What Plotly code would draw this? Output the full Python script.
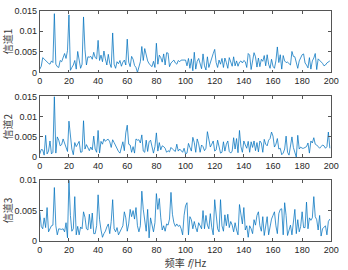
import plotly.graph_objects as go

freq = list(range(200))

ch1 = [0.8,1.5,3.6,3.2,2.8,2.6,2.2,2.0,2.8,2.4,14.3,2.0,1.4,1.2,2.9,2.6,3.5,4.6,3.4,5.3,
       14.0,0.5,1.2,1.8,2.9,0.8,5.1,3.2,1.0,2.0,13.5,5.5,1.8,3.8,3.7,3.9,3.2,4.9,3.6,3.3,
       7.8,2.9,4.2,2.6,5.2,3.3,1.8,4.4,2.2,1.2,9.6,2.0,1.0,2.6,2.1,2.9,1.5,2.5,3.0,1.8,
       8.1,2.5,1.4,3.9,3.2,1.7,1.2,0.0,1.5,2.6,6.3,2.9,5.8,4.0,2.8,2.1,1.8,1.4,2.7,1.2,
       7.1,2.0,4.2,3.6,2.5,4.5,1.8,4.8,4.7,1.4,2.3,2.6,3.0,2.3,2.0,2.9,2.6,3.0,3.0,3.1,
       3.0,1.6,3.4,1.0,3.3,0.4,4.9,0.8,2.7,3.4,1.9,0.9,4.5,1.6,0.6,3.8,1.2,2.5,3.3,4.6,
       5.6,2.4,1.2,3.0,2.0,3.4,1.2,3.5,2.4,1.0,3.6,2.4,1.5,3.8,1.6,2.8,1.5,2.5,2.8,2.3,
       2.9,2.6,1.2,4.6,4.2,0.7,2.6,4.8,3.8,1.3,3.5,1.4,3.2,2.7,4.1,1.6,4.3,2.0,1.0,3.2,
       1.5,1.0,2.8,6.2,2.4,4.3,0.8,4.1,2.8,2.4,2.5,2.2,1.8,5.1,3.9,3.8,2.0,1.0,2.8,3.6,
       4.3,4.5,2.3,1.8,1.1,3.6,0.8,2.8,3.5,4.6,0.7,3.3,3.0,2.7,2.2,1.6,1.8,2.3,2.5,2.8]

ch2 = [0.8,1.9,1.8,0.5,5.4,0.8,1.5,4.0,0.8,1.2,15.0,1.0,5.0,4.2,2.8,3.1,4.5,3.5,2.0,1.4,
       8.9,5.5,2.0,0.6,3.6,2.6,3.2,3.9,1.2,1.3,9.0,2.0,3.1,2.5,1.6,2.5,1.8,5.2,2.0,1.2,
       6.6,1.0,3.9,3.2,4.5,3.9,4.3,4.4,3.8,2.4,4.3,3.6,2.8,2.2,1.4,1.0,2.4,3.8,1.6,6.0,
       7.9,3.2,3.0,1.2,2.6,1.0,4.5,4.2,4.3,3.5,5.5,1.5,1.2,4.2,1.4,3.8,4.2,2.4,1.0,2.6,
       6.0,1.5,3.6,1.8,2.8,2.6,2.2,1.2,1.6,1.3,2.4,2.0,1.6,1.4,3.2,1.5,2.0,1.6,1.2,2.2,
       0.8,1.0,3.4,2.4,1.5,4.9,3.6,1.2,4.5,3.3,1.2,3.0,2.6,1.6,2.2,6.3,3.8,2.5,3.2,4.0,
       1.5,1.8,4.2,2.8,1.0,1.2,3.8,1.5,3.2,4.0,1.4,1.0,1.5,4.8,2.0,4.6,1.1,6.6,2.6,1.2,
       4.0,3.0,2.2,3.9,1.2,3.8,2.4,4.0,1.6,3.6,1.3,4.0,3.5,1.2,4.4,3.2,2.8,4.2,4.6,6.2,
       5.2,2.5,3.2,4.6,2.0,2.2,0.6,1.0,2.0,5.2,1.2,0.5,2.8,5.0,2.4,1.4,0.0,5.4,2.0,2.5,
       2.2,2.2,2.4,2.6,3.5,1.0,4.0,3.5,4.8,3.2,3.0,2.6,2.2,2.6,3.0,2.8,2.2,2.6,6.2,2.2]

ch3 = [4.8,2.4,2.0,3.8,2.2,5.5,1.5,2.0,2.5,2.6,8.8,2.5,1.0,2.0,1.9,1.9,2.0,1.5,3.0,0.5,
       10.0,4.2,1.6,2.0,7.3,1.0,2.4,1.0,2.3,2.0,4.8,3.9,2.0,1.8,4.4,2.0,4.6,1.2,1.2,2.5,
       7.6,3.5,1.8,0.6,1.2,1.6,2.3,2.8,1.2,3.2,6.8,2.0,1.5,2.2,1.0,1.4,2.0,2.5,4.8,3.8,
       1.6,2.8,5.2,4.0,5.0,3.6,5.5,2.5,1.5,2.5,8.2,5.2,3.4,1.6,5.2,0.5,3.8,2.5,1.5,3.0,
       7.8,5.2,7.0,3.8,1.8,2.5,1.6,2.8,2.6,3.6,8.0,4.4,3.0,2.4,2.8,2.4,2.6,2.0,1.0,4.2,
       5.8,6.3,1.0,4.0,3.5,2.0,3.2,2.2,1.5,3.0,2.6,2.0,5.0,2.0,4.2,2.6,2.0,4.5,2.2,1.0,
       6.8,4.0,2.0,1.5,6.8,2.5,1.6,4.3,2.5,4.4,2.2,3.2,2.6,1.5,3.0,1.8,1.0,6.0,4.2,2.8,
       5.5,1.8,2.5,0.6,2.5,2.0,1.2,3.5,2.6,4.2,4.8,2.5,1.6,4.0,0.9,2.5,4.0,1.0,2.5,3.6,
       4.2,4.8,2.5,1.2,4.5,5.2,5.3,1.0,6.3,4.2,0.9,2.0,2.6,1.0,3.2,5.2,1.2,3.5,1.5,2.4,
       4.8,2.2,2.2,6.4,2.0,3.8,3.4,3.8,7.3,4.0,3.5,1.8,4.2,0.8,2.0,2.2,2.5,1.0,3.2,3.6]

series = [ch1, ch2, ch3]
ylabels = ["信道1", "信道2", "信道3"]
yranges = [[0, 0.015], [0, 0.015], [0, 0.01]]
ytickvals = [[0, 0.005, 0.01, 0.015], [0, 0.005, 0.01, 0.015], [0, 0.005, 0.01]]
yticktext = [["0", "0.005", "0.01", "0.015"], ["0", "0.005", "0.01", "0.015"], ["0", "0.005", "0.01"]]
xticks = [0, 20, 40, 60, 80, 100, 120, 140, 160, 180, 200]

W, H = 348, 270
tops = [6, 95, 182]
bots = [70, 158, 245]
x0, x1 = 38, 339

fig = go.Figure()
font_tick = dict(family="Liberation Sans, Arial, sans-serif", size=9, color="#262626")
font_lab = dict(family="Noto Sans CJK SC, Liberation Sans, sans-serif", size=10, color="#3a3a3a")

for i, s in enumerate(series):
    n = "" if i == 0 else str(i + 1)
    fig.add_trace(go.Scatter(x=freq, y=[v / 1000 for v in s], mode="lines",
                             line=dict(color="#0072BD", width=0.75),
                             xaxis="x" + n, yaxis="y" + n, showlegend=False,
                             hoverinfo="skip"))
    common = dict(showline=True, linecolor="#555555", linewidth=0.8, mirror="ticks",
                  ticks="inside", ticklen=3, tickwidth=0.8, tickcolor="#555555",
                  showgrid=False, zeroline=False, tickfont=font_tick)
    xa = dict(domain=[x0 / W, x1 / W], range=[0, 200], tickvals=xticks,
              anchor="y" + n, **common)
    if i == 2:
        xa["title"] = dict(text="频率 <i>f</i>/Hz", font=font_lab, standoff=2)
    ya = dict(domain=[1 - bots[i] / H, 1 - tops[i] / H], range=yranges[i],
              tickvals=ytickvals[i], ticktext=yticktext[i], anchor="x" + n,
              title=dict(text=ylabels[i], font=font_lab, standoff=3), **common)
    fig.update_layout(**{"xaxis" + n: xa, "yaxis" + n: ya})

fig.update_layout(width=W, height=H, margin=dict(l=0, r=0, t=0, b=0),
                  paper_bgcolor="white", plot_bgcolor="white")
fig.write_html("out.html", config={"displayModeBar": False},
               post_script="document.body.style.margin='0px';document.body.style.overflow='hidden';")
